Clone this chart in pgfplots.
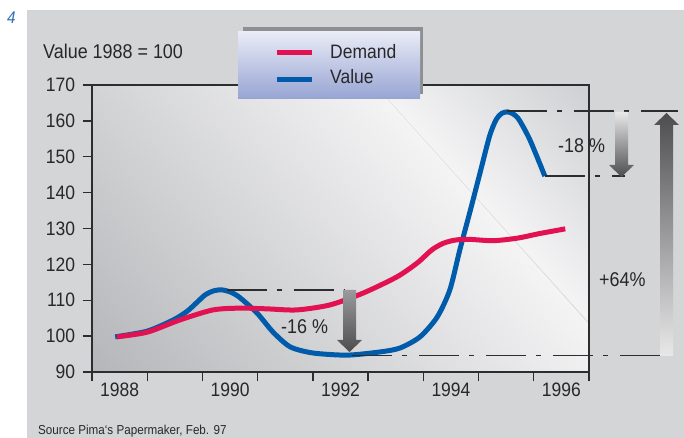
\documentclass[border=0pt]{standalone}
\usepackage{pgfplots}
\pgfplotsset{compat=1.18}
\usepackage{fontspec}
\setmainfont{Liberation Sans}[FakeStretch=0.9]
\definecolor{panel}{RGB}{212,213,215}
\definecolor{bgdark}{RGB}{181,182,185}
\definecolor{bglight}{RGB}{244,244,245}
\definecolor{bgtr}{RGB}{206,207,210}
\definecolor{axisc}{RGB}{45,45,47}
\definecolor{txt}{RGB}{40,40,42}
\definecolor{num4}{RGB}{47,111,184}
\definecolor{demand}{RGB}{226,18,82}
\definecolor{valuec}{RGB}{0,92,170}
\definecolor{legtop}{RGB}{233,235,246}
\definecolor{legbot}{RGB}{151,164,211}
\definecolor{shadowc}{RGB}{142,143,145}
\definecolor{arrdark}{RGB}{77,77,79}
\definecolor{arrmid}{RGB}{154,154,156}
\definecolor{arrlight}{RGB}{232,232,233}

\pgfplotstableread{
x y
1987.92 99.8
1988.50 101.4
1988.97 104.5
1989.22 106.9
1989.40 109.4
1989.55 111.5
1989.70 112.6
1989.85 112.9
1990.02 112.2
1990.18 110.7
1990.49 106.4
1990.78 101.1
1991.09 97.0
1991.50 95.3
1992.12 94.7
1992.72 95.6
1993.08 96.7
1993.44 99.8
1993.75 105.3
1993.98 112.9
1994.16 124.0
1994.35 135.0
1994.53 145.7
1994.70 155.8
1994.82 160.4
1994.92 162.1
1995.02 162.5
1995.12 162.0
1995.23 160.4
1995.43 154.7
1995.70 144.6
}\valuedata

\pgfplotstableread{
x y
1987.95 99.8
1988.50 101.1
1989.09 104.5
1989.69 107.3
1990.18 107.8
1990.67 107.6
1991.21 107.3
1991.81 108.7
1992.41 112.0
1993.02 116.5
1993.39 120.4
1993.65 124.0
1993.85 125.8
1994.05 126.7
1994.30 127.0
1994.76 126.6
1995.20 127.3
1995.61 128.6
1996.07 129.9
}\demanddata

\begin{document}
\begin{tikzpicture}[x=1bp,y=1bp]
\useasboundingbox (0,0) rectangle (684,438);
\fill[panel] (27,0) rectangle (684,428);
% plot background, lower-left part
\begin{scope}
\clip (92,66) -- (92,353) -- (375,353) -- (589,115) -- (589,66) -- cycle;
\begin{scope}[transform canvas={shift={(375bp,353bp)},rotate=-48.2}]
\shade[bottom color=bgdark, top color=bglight] (-800,-402) rectangle (800,0);
\end{scope}
\end{scope}
% plot background, upper-right part
\begin{scope}
\clip (375,353) -- (589,353) -- (589,115) -- cycle;
\begin{scope}[transform canvas={shift={(375bp,353bp)},rotate=-48.2}]
\shade[bottom color=bglight, top color=bgtr] (-800,0) rectangle (800,160);
\end{scope}
\end{scope}
\draw[line width=0.4bp, color=black!13] (375,353) -- (589,115);

\begin{axis}[
  at={(92bp,66bp)}, anchor=south west,
  scale only axis, width=497bp, height=287bp,
  xmin=1987.5, xmax=1996.5, ymin=90, ymax=170,
  clip=false,
  axis line style={line width=1.4bp, draw=axisc},
  xtick={1987.5,1988.5,...,1996.5}, xticklabels={},
  extra x ticks={1988,1990,1992,1994,1996},
  extra x tick labels={1988,1990,1992,1994,1996},
  extra x tick style={major tick length=0pt},
  ytick={90,100,...,170},
  tick align=outside, major tick length=9.5bp,
  xtick pos=left, ytick pos=left,
  tick style={line width=1.4bp, draw=axisc},
  tick label style={font=\fontsize{19.5}{20}\selectfont, text=txt},
  x tick label style={yshift=-7bp},
  y tick label style={xshift=-4bp},
  /pgf/number format/assume math mode=true,
]
\addplot[valuec, line width=5bp, smooth, tension=0.45] table[x=x,y=y] {\valuedata};
\addplot[demand, line width=5bp, smooth, tension=0.45] table[x=x,y=y] {\demanddata};
% reference dashed lines
\draw[axisc, line width=1.5bp, dash pattern=on 40bp off 10bp on 5bp off 12bp]
  (axis cs:1989.94,112.9) -- (axis cs:1992.08,112.9);
\draw[axisc, line width=1.5bp, dash pattern=on 40bp off 10bp on 5bp off 12bp]
  (axis cs:1992.21,94.6) -- (axis cs:1998.02,94.6);
\draw[axisc, line width=1.5bp, dash pattern=on 40bp off 10bp on 5bp off 12bp]
  (axis cs:1995.02,162.7) -- (axis cs:1998.11,162.7);
\draw[axisc, line width=1.5bp, dash pattern=on 40bp off 10bp on 5bp off 12bp]
  (axis cs:1995.70,144.6) -- (axis cs:1997.15,144.6);
\end{axis}

% arrows
\shade[top color=arrmid, bottom color=arrdark]
  (343,148) -- (356,148) -- (356,98) -- (362,98) -- (349.5,86) -- (337,98) -- (343,98) -- cycle;
\shade[top color=arrlight, bottom color=arrdark]
  (615,326) -- (628,326) -- (628,273) -- (634,273) -- (621.5,261) -- (609,273) -- (615,273) -- cycle;
\shade[top color=arrdark, bottom color=arrlight]
  (660,82) -- (673,82) -- (673,313) -- (679,313) -- (666.5,325) -- (654,313) -- (660,313) -- cycle;

% annotation texts
\node[anchor=base west, inner sep=0, text=txt, font=\fontsize{20}{20}\selectfont] at (281,104) {-16 \%};
\node[anchor=base west, inner sep=0, text=txt, font=\fontsize{20}{20}\selectfont] at (558,285) {-18 \%};
\node[anchor=base west, inner sep=0, text=txt, font=\fontsize{20}{20}\selectfont] at (599,151) {+64\%};

% legend
\fill[shadowc] (243,344) rectangle (423,411);
\shade[top color=legtop, bottom color=legbot] (238,339) rectangle (420,406);
\draw[demand, line width=5bp] (277,385.7) -- (312,385.7);
\draw[valuec, line width=5bp] (277,358.7) -- (312,358.7);
\node[anchor=base west, inner sep=0, text=txt, font=\fontsize{19.5}{20}\selectfont] at (330,379.7) {Demand};
\node[anchor=base west, inner sep=0, text=txt, font=\fontsize{19.5}{20}\selectfont] at (330,354) {Value};

% titles
\node[anchor=base west, inner sep=0, text=txt, font=\fontsize{20}{20}\selectfont] at (43,379) {Value 1988 = 100};
\node[anchor=base west, inner sep=0, text=num4, font=\fontsize{17}{17}\selectfont\itshape] at (7,414) {4};
\node[anchor=base west, inner sep=0, text=txt, font=\fontsize{13}{13}\selectfont] at (38,3) {Source Pima`s Papermaker, Feb. 97};
\end{tikzpicture}
\end{document}
